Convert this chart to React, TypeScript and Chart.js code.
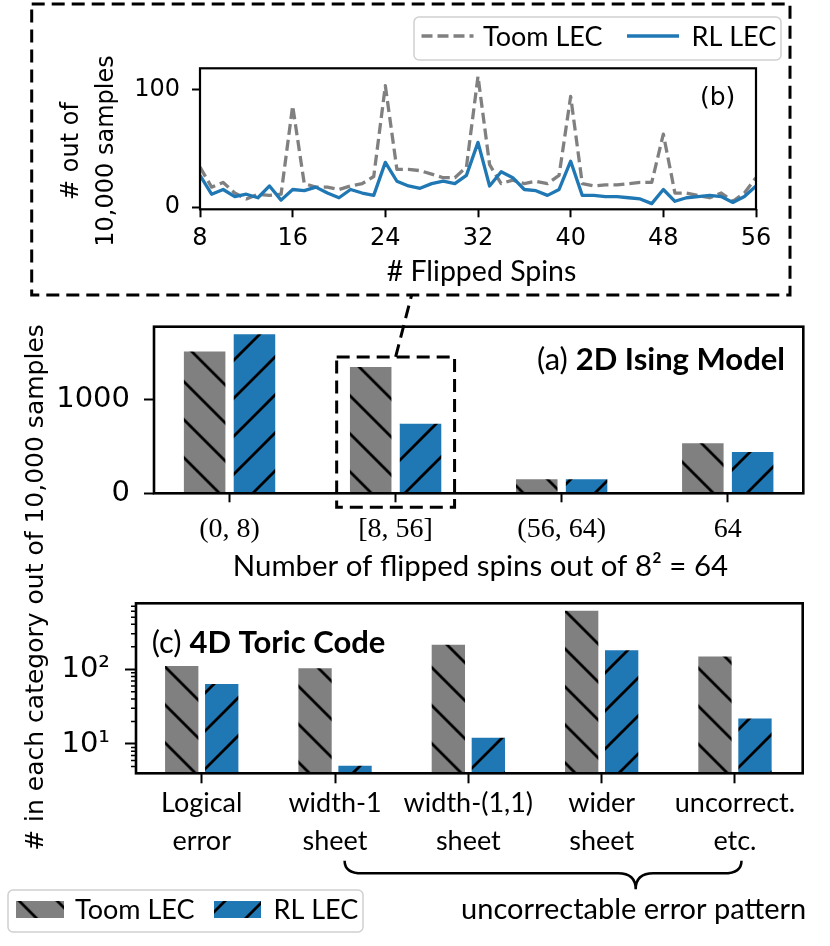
import React, { useEffect, useRef } from 'react';
import { Chart, registerables } from 'chart.js';

Chart.register(...registerables);

const W = 830;
const H = 946;
const AXW = 100;
const AXH = 100;

// ---------- Panel (b): flipped spins ----------
const flippedSpins = [8, 9, 10, 11, 12, 13, 14, 15, 16, 17, 18, 19, 20, 21, 22, 23, 24, 25, 26, 27, 28, 29, 30, 31, 32, 33, 34, 35, 36, 37, 38, 39, 40, 41, 42, 43, 44, 45, 46, 47, 48, 49, 50, 51, 52, 53, 54, 55, 56];
const toomSpinCounts = [34, 17, 21, 12, 7, 11, 10, 11, 86, 20, 17, 17, 15, 18, 20, 26, 103, 32, 32, 31, 28, 25, 25, 34, 111, 36, 20, 23, 20, 22, 20, 27, 94, 20, 18, 19, 19, 20, 21, 21, 62, 12, 12, 10, 8, 12, 5, 12, 25];
const rlSpinCounts = [27, 11, 15, 9, 11, 8, 18, 6, 15, 14, 17, 12, 8, 15, 12, 10, 38, 22, 18, 16, 20, 22, 20, 27, 55, 18, 30, 25, 15, 14, 10, 15, 39, 10, 10, 9, 9, 8, 7, 3, 15, 5, 8, 9, 10, 9, 4, 9, 18];
const spinTicks = [8, 16, 24, 32, 40, 48, 56];
const spinCountTicks = [0, 100];

// ---------- Panel (a): 2D Ising model ----------
const isingCategories = ['(0, 8)', '[8, 56]', '(56, 64)', '64'];
const isingToom = [1505, 1340, 148, 530];
const isingRL = [1688, 738, 148, 438];
const isingYTicks = [0, 1000];

// ---------- Panel (c): 4D toric code ----------
const toricCategories = [['Logical', 'error'], ['width-1', 'sheet'], ['width-(1,1)', 'sheet'], ['wider', 'sheet'], ['uncorrect.', 'etc.']];
const toricToom = [111, 103, 214, 609, 149];
const toricRL = [63.5, 5.1, 12.1, 180, 21.9];
const toricYTicks = [10, 100];
const toricYTickLabels = ['10¹', '10²'];
const toricMinorTicks = [5, 6, 7, 8, 9, 20, 30, 40, 50, 60, 70, 80, 90, 200, 300, 400, 500, 600, 700];

const seriesNames = ['Toom LEC', 'RL LEC'];
const GRAY = '#808080';
const BLUE = '#1f77b4';
const SANS = '"DejaVu Sans"';
const LAB = 'Lato';
const SERIF = '"Liberation Serif"';

type Area = { l: number; t: number; r: number; b: number };
const areaB: Area = { l: 200, t: 68.3, r: 756, b: 209.3 };
const areaA: Area = { l: 154, t: 326.7, r: 803.3, b: 493.3 };
const areaC: Area = { l: 136, t: 603.3, r: 802.7, b: 773.3 };

function paddingFor(a: Area) {
  return { left: a.l - AXW, top: a.t, right: W - a.r, bottom: H - a.b - AXH };
}

function makeHatch(ctx: CanvasRenderingContext2D, color: string, forward: boolean, phase: number) {
  const T = 38;
  const tile = document.createElement('canvas');
  tile.width = T;
  tile.height = T;
  const g = tile.getContext('2d')!;
  g.fillStyle = color;
  g.fillRect(0, 0, T, T);
  g.strokeStyle = '#000';
  g.lineWidth = 2.8;
  g.beginPath();
  for (const k of [-T, 0, T]) {
    if (forward) {
      g.moveTo(-T, 2 * T + k);
      g.lineTo(2 * T, -T + k);
    } else {
      g.moveTo(-T, -T + k);
      g.lineTo(2 * T, 2 * T + k);
    }
  }
  g.stroke();
  const p = ctx.createPattern(tile, 'repeat')!;
  p.setTransform(new DOMMatrix().translate(0, phase));
  return p;
}

function txt(ctx: CanvasRenderingContext2D, s: string, x: number, y: number, font: string, align: CanvasTextAlign = 'center', rot = 0) {
  ctx.save();
  ctx.translate(x, y);
  if (rot) ctx.rotate(rot);
  ctx.font = font;
  ctx.fillStyle = '#000';
  ctx.textAlign = align;
  ctx.textBaseline = 'middle';
  ctx.fillText(s, 0, 0);
  ctx.restore();
}

function frame(ctx: CanvasRenderingContext2D, a: any, lw: number) {
  ctx.save();
  ctx.strokeStyle = '#000';
  ctx.lineWidth = lw;
  ctx.strokeRect(a.left, a.top, a.right - a.left, a.bottom - a.top);
  ctx.restore();
}

const tickGrid = (len: number, width = 2) => ({
  display: true,
  drawOnChartArea: false,
  drawTicks: true,
  tickLength: len,
  tickWidth: width,
  tickColor: '#000',
  offset: false,
});

const panelBPlugin = {
  id: 'panelB',
  afterDraw(chart: any) {
    const ctx: CanvasRenderingContext2D = chart.ctx;
    frame(ctx, chart.chartArea, 2.2);
    txt(ctx, '(b)', 700, 98, `25px ${SANS}`, 'left');
    txt(ctx, '# Flipped Spins', 481.5, 272, `28.5px ${LAB}`);
    txt(ctx, '# out of', 71.7, 151, `24px ${SANS}`, 'center', -Math.PI / 2);
    txt(ctx, '10,000 samples', 106.7, 151, `24px ${SANS}`, 'center', -Math.PI / 2);
    // legend
    ctx.save();
    ctx.beginPath();
    ctx.roundRect(414, 17, 367, 43, 5);
    ctx.fillStyle = 'rgba(255,255,255,0.85)';
    ctx.fill();
    ctx.strokeStyle = '#d0d0d0';
    ctx.lineWidth = 1.5;
    ctx.stroke();
    ctx.lineWidth = 3.3;
    ctx.strokeStyle = GRAY;
    ctx.setLineDash([11, 5]);
    ctx.beginPath();
    ctx.moveTo(421.5, 36);
    ctx.lineTo(473.5, 36);
    ctx.stroke();
    ctx.setLineDash([]);
    ctx.strokeStyle = BLUE;
    ctx.beginPath();
    ctx.moveTo(627, 36);
    ctx.lineTo(679, 36);
    ctx.stroke();
    ctx.restore();
    txt(ctx, seriesNames[0], 483, 37, `27px ${LAB}`, 'left');
    txt(ctx, seriesNames[1], 691.5, 37, `27px ${LAB}`, 'left');
  },
};

const panelAPlugin = {
  id: 'panelA',
  afterDraw(chart: any) {
    const ctx: CanvasRenderingContext2D = chart.ctx;
    frame(ctx, chart.chartArea, 2.6);
    // panel title
    ctx.save();
    ctx.font = `bold 31px ${LAB}`;
    const wB = ctx.measureText('2D Ising Model').width;
    ctx.font = `31px ${LAB}`;
    const wA = ctx.measureText('(a) ').width;
    ctx.restore();
    const x0 = 785 - wA - wB;
    txt(ctx, '(a) ', x0, 360, `31px ${LAB}`, 'left');
    txt(ctx, '2D Ising Model', x0 + wA, 360, `bold 31px ${LAB}`, 'left');
    txt(ctx, 'Number of flipped spins out of 8² = 64', 480.4, 566.7, `29.4px ${LAB}`);

    // figure-level decorations
    const xs = chart.scales.x;
    const ys = chart.scales.y;
    const cx = xs.getPixelForValue(1);
    const sp = xs.getPixelForValue(1) - xs.getPixelForValue(0);
    const boxTop = ys.getPixelForValue(isingToom[1]) - 10;
    const boxBottom = chart.chartArea.bottom + 14;
    ctx.save();
    ctx.strokeStyle = '#000';
    ctx.lineWidth = 3;
    ctx.setLineDash([13, 7]);
    ctx.strokeRect(31.7, 4, 758.3, 291);
    ctx.strokeRect(cx - 0.355 * sp, boxTop, 0.71 * sp, boxBottom - boxTop);
    ctx.beginPath();
    ctx.moveTo(cx, boxTop);
    ctx.lineTo(cx + 16, 295);
    ctx.stroke();
    ctx.setLineDash([]);
    // brace
    ctx.lineWidth = 2.5;
    ctx.beginPath();
    ctx.moveTo(344.6, 860.7);
    ctx.quadraticCurveTo(344.6, 873.3, 362, 873.3);
    ctx.lineTo(618, 873.3);
    ctx.quadraticCurveTo(635.7, 873.3, 635.7, 889.3);
    ctx.quadraticCurveTo(635.7, 873.3, 653.4, 873.3);
    ctx.lineTo(724, 873.3);
    ctx.quadraticCurveTo(741.5, 873.3, 741.5, 860.7);
    ctx.stroke();
    ctx.restore();
    txt(ctx, '# in each category out of 10,000 samples', 36.7, 587.5, `25px ${SANS}`, 'center', -Math.PI / 2);
    txt(ctx, 'uncorrectable error pattern', 633.7, 910, `29px ${LAB}`);

    // bottom legend
    ctx.save();
    ctx.beginPath();
    ctx.roundRect(8, 890, 355, 42, 5);
    ctx.fillStyle = 'rgba(255,255,255,0.85)';
    ctx.fill();
    ctx.strokeStyle = '#d0d0d0';
    ctx.lineWidth = 1.5;
    ctx.stroke();
    ctx.fillStyle = makeHatch(ctx, GRAY, false, 7.7);
    ctx.fillRect(16, 901, 48, 17);
    ctx.fillStyle = makeHatch(ctx, BLUE, true, 24);
    ctx.fillRect(214, 901, 47, 17);
    ctx.restore();
    txt(ctx, seriesNames[0], 75, 910, `27px ${LAB}`, 'left');
    txt(ctx, seriesNames[1], 273.5, 910, `27px ${LAB}`, 'left');
  },
};

const panelCPlugin = {
  id: 'panelC',
  afterDraw(chart: any) {
    const ctx: CanvasRenderingContext2D = chart.ctx;
    const a = chart.chartArea;
    frame(ctx, a, 2.6);
    const ys = chart.scales.y;
    ctx.save();
    ctx.strokeStyle = '#000';
    ctx.lineWidth = 1.5;
    ctx.beginPath();
    for (const v of toricMinorTicks) {
      const py = ys.getPixelForValue(v);
      ctx.moveTo(a.left - 5, py);
      ctx.lineTo(a.left, py);
    }
    ctx.stroke();
    ctx.font = `31px ${LAB}`;
    const wA = ctx.measureText('(c) ').width;
    ctx.restore();
    txt(ctx, '(c) ', 151.7, 643.3, `31px ${LAB}`, 'left');
    txt(ctx, '4D Toric Code', 151.7 + wA, 643.3, `bold 31px ${LAB}`, 'left');
  },
};

export default function App() {
  const refB = useRef<HTMLCanvasElement>(null);
  const refA = useRef<HTMLCanvasElement>(null);
  const refC = useRef<HTMLCanvasElement>(null);

  useEffect(() => {
    const charts: Chart[] = [];
    const base = {
      responsive: false,
      animation: false as const,
      devicePixelRatio: 1,
      events: [] as any[],
    };
    const noPlugins = { legend: { display: false }, tooltip: { enabled: false } };

    // Panel (b)
    charts.push(
      new Chart(refB.current!, {
        type: 'line',
        data: {
          datasets: [
            {
              label: seriesNames[0],
              data: flippedSpins.map((s, i) => ({ x: s, y: toomSpinCounts[i] })),
              borderColor: GRAY,
              borderWidth: 3.3,
              borderDash: [11, 5],
              borderJoinStyle: 'round',
              pointRadius: 0,
              tension: 0,
              fill: false,
              order: 1,
            },
            {
              label: seriesNames[1],
              data: flippedSpins.map((s, i) => ({ x: s, y: rlSpinCounts[i] })),
              borderColor: BLUE,
              borderWidth: 3.3,
              borderJoinStyle: 'round',
              pointRadius: 0,
              tension: 0,
              fill: false,
              order: 0,
            },
          ],
        },
        options: {
          ...base,
          layout: { padding: paddingFor(areaB) },
          plugins: noPlugins,
          scales: {
            x: {
              type: 'linear',
              min: 8,
              max: 56,
              afterFit: (s: any) => { s.height = AXH; },
              afterBuildTicks: (s: any) => { s.ticks = spinTicks.map((v) => ({ value: v })); },
              ticks: { callback: (v: any) => String(v), font: { family: SANS, size: 24, lineHeight: 1.2 }, color: '#000', padding: 7, maxRotation: 0, autoSkip: false },
              grid: tickGrid(8),
              border: { display: false },
            },
            y: {
              type: 'linear',
              min: -1.8,
              max: 117.8,
              afterFit: (s: any) => { s.width = AXW; },
              afterBuildTicks: (s: any) => { s.ticks = spinCountTicks.map((v) => ({ value: v })); },
              ticks: { callback: (v: any) => String(v), font: { family: SANS, size: 24, lineHeight: 1.2 }, color: '#000', padding: 12 },
              grid: tickGrid(8),
              border: { display: false },
            },
          },
        } as any,
        plugins: [panelBPlugin],
      })
    );

    // Panel (a)
    const ctxA = refA.current!.getContext('2d')!;
    charts.push(
      new Chart(refA.current!, {
        type: 'bar',
        data: {
          datasets: [
            {
              label: seriesNames[0],
              data: isingToom.map((v, i) => ({ x: i, y: v })),
              backgroundColor: makeHatch(ctxA, GRAY, false, 7.7),
              borderWidth: 0,
              categoryPercentage: 0.6,
              barPercentage: 0.8333,
            },
            {
              label: seriesNames[1],
              data: isingRL.map((v, i) => ({ x: i, y: v })),
              backgroundColor: makeHatch(ctxA, BLUE, true, 24),
              borderWidth: 0,
              categoryPercentage: 0.6,
              barPercentage: 0.8333,
            },
          ],
        },
        options: {
          ...base,
          layout: { padding: paddingFor(areaA) },
          plugins: noPlugins,
          scales: {
            x: {
              type: 'linear',
              min: -0.455,
              max: 3.455,
              offset: false,
              afterFit: (s: any) => { s.height = AXH; },
              afterBuildTicks: (s: any) => { s.ticks = isingCategories.map((_, i) => ({ value: i })); },
              ticks: { callback: (v: any) => isingCategories[v], font: { family: SERIF, size: 28, lineHeight: 1.2 }, color: '#000', padding: 11, maxRotation: 0, autoSkip: false },
              grid: tickGrid(9),
              border: { display: false },
            },
            y: {
              type: 'linear',
              min: 0,
              max: 1767,
              afterFit: (s: any) => { s.width = AXW; },
              afterBuildTicks: (s: any) => { s.ticks = isingYTicks.map((v) => ({ value: v })); },
              ticks: { callback: (v: any) => String(v), font: { family: SANS, size: 29, lineHeight: 1.2 }, color: '#000', padding: 14 },
              grid: tickGrid(10),
              border: { display: false },
            },
          },
        } as any,
        plugins: [panelAPlugin],
      })
    );

    // Panel (c)
    const ctxC = refC.current!.getContext('2d')!;
    charts.push(
      new Chart(refC.current!, {
        type: 'bar',
        data: {
          datasets: [
            {
              label: seriesNames[0],
              data: toricToom.map((v, i) => ({ x: i, y: v })),
              backgroundColor: makeHatch(ctxC, GRAY, false, 7.7),
              borderWidth: 0,
              categoryPercentage: 0.6,
              barPercentage: 0.8333,
            },
            {
              label: seriesNames[1],
              data: toricRL.map((v, i) => ({ x: i, y: v })),
              backgroundColor: makeHatch(ctxC, BLUE, true, 24),
              borderWidth: 0,
              categoryPercentage: 0.6,
              barPercentage: 0.8333,
            },
          ],
        },
        options: {
          ...base,
          layout: { padding: paddingFor(areaC) },
          plugins: noPlugins,
          scales: {
            x: {
              type: 'linear',
              min: -0.493,
              max: 4.508,
              offset: false,
              afterFit: (s: any) => { s.height = AXH; },
              afterBuildTicks: (s: any) => { s.ticks = toricCategories.map((_, i) => ({ value: i })); },
              ticks: { callback: (v: any) => toricCategories[v], font: { family: LAB, size: 27, lineHeight: 38 / 27 }, color: '#000', padding: 1, maxRotation: 0, autoSkip: false },
              grid: tickGrid(10),
              border: { display: false },
            },
            y: {
              type: 'logarithmic',
              min: 4.05,
              max: 766,
              afterFit: (s: any) => { s.width = AXW; },
              afterBuildTicks: (s: any) => { s.ticks = toricYTicks.map((v) => ({ value: v })); },
              ticks: { callback: (v: any) => toricYTickLabels[toricYTicks.indexOf(v)], font: { family: SANS, size: 29, lineHeight: 1.2 }, color: '#000', padding: 15 },
              grid: tickGrid(11),
              border: { display: false },
            },
          },
        } as any,
        plugins: [panelCPlugin],
      })
    );

    return () => charts.forEach((c) => c.destroy());
  }, []);

  const cs: React.CSSProperties = { position: 'absolute', left: 0, top: 0, width: W, height: H };
  return (
    <div style={{ position: 'absolute', left: 0, top: 0, width: W, height: H, background: '#fff', overflow: 'hidden' }}>
      <canvas ref={refB} width={W} height={H} style={cs} />
      <canvas ref={refA} width={W} height={H} style={cs} />
      <canvas ref={refC} width={W} height={H} style={cs} />
    </div>
  );
}
